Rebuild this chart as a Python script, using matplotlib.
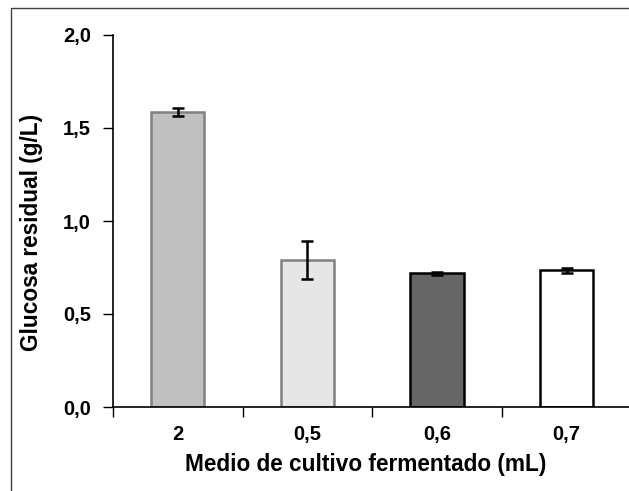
import numpy as np
import matplotlib.pyplot as plt
from matplotlib.patches import Rectangle

# data
categorias = ['2', '0,5', '0,6', '0,7']
glucosa = [1.585, 0.79, 0.72, 0.735]
error = [0.022, 0.10, 0.008, 0.015]
y_ticks = [0.0, 0.5, 1.0, 1.5, 2.0]
y_tick_labels = ['0,0', '0,5', '1,0', '1,5', '2,0']

rellenos = ['#c0c0c0', '#e6e6e6', '#666666', '#ffffff']
bordes = ['#808080', '#808080', '#000000', '#000000']

plt.rcParams['font.family'] = ['Liberation Sans', 'DejaVu Sans']
plt.rcParams['font.weight'] = 'bold'

W, H = 629, 491
fig = plt.figure(figsize=(W / 100, H / 100), dpi=100)

# axes placed in pixel terms; right end runs past the image edge as in the reference
left, right, bottom, top = 113, 631.5, 407, 35
ax = fig.add_axes([left / W, (H - bottom) / H, (right - left) / W, (bottom - top) / H])

x = np.arange(len(categorias))
ax.bar(x, glucosa, width=0.41, color=rellenos, edgecolor=bordes, linewidth=1.8, zorder=2)
ax.errorbar(x, glucosa, yerr=error, fmt='none', ecolor='black', elinewidth=1.8,
            capsize=4, capthick=1.8, zorder=3)

ax.set_xlim(-0.5, 3.5)
ax.set_ylim(0, 2.0)
ax.set_yticks(y_ticks)
ax.set_yticklabels(y_tick_labels)
ax.set_xticks(np.arange(-0.5, 3.6, 1.0), minor=False)
ax.set_xticklabels([])
ax.set_xticks(x, minor=True)
ax.set_xticklabels(categorias, minor=True)
ax.tick_params(axis='x', which='minor', length=0, pad=13, labelsize=14.5)
ax.tick_params(axis='x', which='major', direction='out', length=7, width=1)
ax.tick_params(axis='y', direction='out', length=7, width=1, labelsize=14.5, pad=9)

for s in ['top', 'right']:
    ax.spines[s].set_visible(False)
for s in ['left', 'bottom']:
    ax.spines[s].set_linewidth(1.2)

ax.set_xlabel('Medio de cultivo fermentado (mL)', fontsize=16.3, fontweight='bold')
ax.set_ylabel('Glucosa residual (g/L)', fontsize=16.3, fontweight='bold')
ax.xaxis.set_label_coords(0.488, -0.124)
ax.yaxis.set_label_coords(-0.135, 0.47)

# outer frame, cut off at right and bottom
fig.patches.append(Rectangle((11 / W, -0.1), 1.2, (H - 8) / H + 0.1, transform=fig.transFigure,
                             fill=False, edgecolor='#404040', linewidth=1.0))

fig.savefig('out.png', dpi=100)
